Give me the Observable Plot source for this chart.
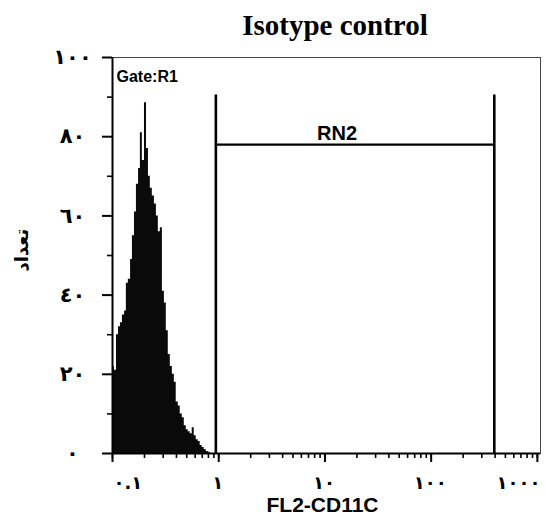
<!DOCTYPE html>
<html><head><meta charset="utf-8">
<script src="https://cdn.jsdelivr.net/npm/d3@7"></script>
<script src="https://cdn.jsdelivr.net/npm/@observablehq/plot@0.6"></script>
<style>
body{margin:0;background:#fff;}
#title{box-sizing:border-box;width:545px;height:44px;padding-top:11px;padding-left:125px;text-align:center;font:bold 29px/29px "Liberation Serif","Times New Roman",serif;color:#000;}
[aria-label="ylabels"] text{letter-spacing:4px;}
[aria-label="xlabels"] text{letter-spacing:3px;}
</style></head><body>
<div id="title">Isotype control</div>
<div id="chart"></div>
<script>
// FL2-CD11C bin left edges (log channels) and event counts
const binEdges = [0.100,0.104,0.109,0.114,0.119,0.124,0.130,0.135,0.141,0.148,0.154,0.161,0.168,0.176,0.183,0.191,0.200,0.209,0.218,0.227,0.237,0.248,0.259,0.270,0.282,0.295,0.308,0.321,0.335,0.350,0.366,0.382,0.398,0.416,0.434,0.454,0.474,0.495,0.516,0.539,0.563,0.588,0.614,0.641,0.669,0.699,0.730,0.762,0.796,0.831];
const counts = [22,21,30,32,33,35,36,43,44,49,55,61,68,72,81,74,88.6,77,70,67,65,63,60,56,57,41,38,31,25,22,20,18,13,12,10,9,7,6,5.5,5,6.5,4.5,3.5,3,2,1.5,1,0.5,0.3];
const yTicks = [0,20,40,60,80,100];
const yMinor = [10,30,50,70,90];
const yTickLabels = ["٠","٢٠","٤٠","٦٠","٨٠","١٠٠"];
const xTicks = [0.1,1,10,100,1000];
const xTickLabels = ["٠.١","١","١٠","١٠٠","١٠٠٠"];
const markerLow = 0.94, markerHigh = 393, markerLevel = 78, markerTop = 90.5;
const markerName = "RN2", markerLabelX = 13;
const gateLabel = "Gate:R1";
const xTitle = "FL2-CD11C";
const yTitle = "تعداد";

// step outline of the histogram: each count held from its left edge to the next edge
const steps = counts.map((c, i) => ({x: binEdges[i], y: c}));
steps.push({x: binEdges[counts.length], y: 0});
const labelFont = "DejaVu Sans";

const chart = Plot.plot({
  width: 545, height: 472,
  marginLeft: 112, marginRight: 5, marginTop: 13, marginBottom: 63,
  x: {type: "log", domain: [0.1, 1070], axis: null},
  y: {domain: [0, 100], axis: null},
  style: {background: "#fff", color: "#000"},
  marks: [
    Plot.frame({stroke: "#444", strokeWidth: 1}),
    Plot.areaY(steps, {x: "x", y: "y", curve: "step-after", fill: "#0a0a0a"}),
    Plot.ruleX([markerLow, markerHigh], {y1: 0, y2: markerTop, stroke: "#000", strokeWidth: 2.6}),
    Plot.ruleY([markerLevel], {x1: markerLow, x2: markerHigh, stroke: "#000", strokeWidth: 2.2}),
    Plot.text([markerName], {x: markerLabelX, y: markerLevel, dy: -11, text: d => d, fontFamily: "Liberation Sans", fontWeight: "bold", fontSize: 20}),
    Plot.text([gateLabel], {frameAnchor: "top-left", text: d => d, dx: 4, dy: 13, textAnchor: "start", fontFamily: "Liberation Sans", fontWeight: "bold", fontSize: 16}),
    Plot.ruleX([0.1], {stroke: "#000", strokeWidth: 2}),
    Plot.ruleY([0], {stroke: "#000", strokeWidth: 2}),
    Plot.axisX({ticks: 20, tickSize: 5, tickFormat: () => "", label: null, strokeWidth: 1.6}),
    Plot.axisX(xTicks, {tickSize: 9, tickFormat: () => "", label: null, strokeWidth: 2}),
    Plot.axisY(yMinor, {tickSize: 5, tickFormat: () => "", label: null, strokeWidth: 1.6}),
    Plot.axisY(yTicks, {tickSize: 10, tickFormat: () => "", label: null, strokeWidth: 2}),
    Plot.text(yTicks, {y: d => d, text: (d, i) => yTickLabels[i], frameAnchor: "left", dx: -40, textAnchor: "middle", fontFamily: labelFont, fontWeight: "bold", fontSize: 21, ariaLabel: "ylabels"}),
    Plot.text(xTicks.slice(0, 1), {x: d => d, text: (d, i) => xTickLabels[i], frameAnchor: "bottom", dy: 35, dx: 1, textAnchor: "start", fontFamily: labelFont, fontWeight: "bold", fontSize: 18, ariaLabel: "xlabels"}),
    Plot.text(xTicks.slice(1, 4), {x: d => d, text: (d, i) => xTickLabels[i + 1], frameAnchor: "bottom", dy: 35, dx: -1, textAnchor: "middle", fontFamily: labelFont, fontWeight: "bold", fontSize: 18, ariaLabel: "xlabels"}),
    Plot.text(xTicks.slice(4), {x: d => d, text: (d, i) => xTickLabels[i + 4], frameAnchor: "bottom", dy: 35, dx: 3, textAnchor: "end", fontFamily: labelFont, fontWeight: "bold", fontSize: 18, ariaLabel: "xlabels"}),
    Plot.text([xTitle], {frameAnchor: "bottom", text: d => d, dy: 58, dx: -4, fontFamily: "Liberation Sans", fontWeight: "bold", fontSize: 21}),
    Plot.text([yTitle], {frameAnchor: "left", text: d => d, dx: -90, dy: 16, rotate: -90, fontFamily: labelFont, fontWeight: "bold", fontSize: 18})
  ]
});
document.getElementById("chart").append(chart);
</script>
</body></html>
